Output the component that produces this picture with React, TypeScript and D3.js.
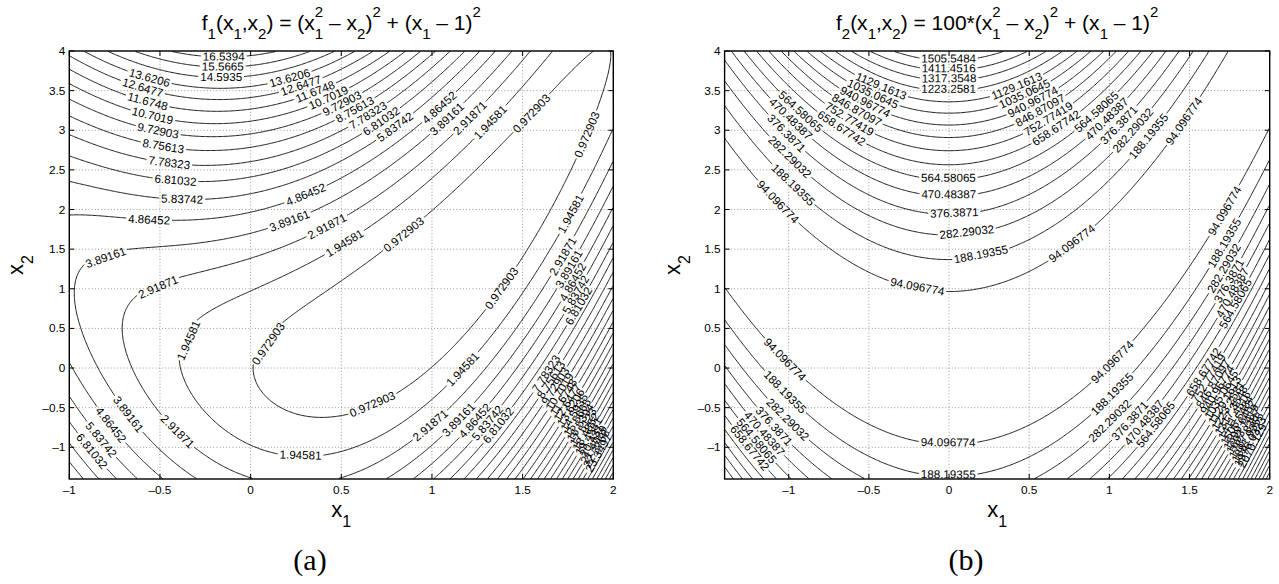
import React, { useMemo } from 'react';
import * as d3 from 'd3';

// ---------- data ----------
const x1TicksA = [-1, -0.5, 0, 0.5, 1, 1.5, 2];
const x1TicksB = [-1, -0.5, 0, 0.5, 1, 1.5, 2];
const x2Ticks = [-1, -0.5, 0, 0.5, 1, 1.5, 2, 2.5, 3, 3.5, 4];
const x1DomainA = [-1, 2];
const x1DomainB = [-1.4, 2];
const x2Domain = [-1.4, 4];

const levelsA = [
  0.972903, 1.94581, 2.91871, 3.89161, 4.86452, 5.83742, 6.81032, 7.78323, 8.75613, 9.72903,
  10.7019, 11.6748, 12.6477, 13.6206, 14.5935, 15.5665, 16.5394, 17.5123, 18.4852, 19.4581,
  20.431, 21.4039, 22.3768, 23.3497, 24.3226, 25.2955, 26.2684, 27.2413, 28.2142, 29.1871,
];
const levelsB = [
  94.096774, 188.19355, 282.29032, 376.3871, 470.48387, 564.58065, 658.67742, 752.77419,
  846.87097, 940.96774, 1035.0645, 1129.1613, 1223.2581, 1317.3548, 1411.4516, 1505.5484,
  1599.6452, 1693.7419, 1787.8387, 1881.9355, 1976.0323, 2070.129, 2164.2258, 2258.3226,
  2352.4194, 2446.5161, 2540.6129, 2634.7097, 2728.8065, 2822.9032,
];

// functions given in the panel titles
const f1 = (a: number, b: number) => (a * a - b) ** 2 + (a - 1) ** 2;
const f2 = (a: number, b: number) => 100 * (a * a - b) ** 2 + (a - 1) ** 2;

// ---------- layout ----------
const W = 1279;
const H = 584;
const FONT = 'Liberation Sans, Arial, Helvetica, sans-serif';
const boxA = { left: 69.3, right: 613.3, top: 51, bottom: 479 };
const boxB = { left: 724.6, right: 1269.7, top: 51, bottom: 479 };
const LABEL_SIZE = 11.6;
const TICK_SIZE = 11.8;
const SPACING = 185;

let ctx: CanvasRenderingContext2D | null = null;
function textWidth(s: string, font: string) {
  if (!ctx) ctx = document.createElement('canvas').getContext('2d');
  if (!ctx) return s.length * 6;
  ctx.font = font;
  return ctx.measureText(s).width;
}

type Pt = [number, number];

function splitRing(ring: number[][], nx: number, ny: number): number[][][] {
  const pts = ring.slice(0, ring.length - 1);
  const n = pts.length;
  const onB = (p: number[]) => p[0] <= 0 || p[0] >= nx || p[1] <= 0 || p[1] >= ny;
  const isBEdge = (i: number) => onB(pts[i]) && onB(pts[(i + 1) % n]);
  let start = -1;
  for (let i = 0; i < n; i++) if (isBEdge(i)) { start = i; break; }
  if (start < 0) return [ring.slice()];
  const lines: number[][][] = [];
  let cur: number[][] = [];
  for (let k = 1; k <= n; k++) {
    const i = (start + k) % n;
    if (isBEdge(i)) {
      if (cur.length >= 2) lines.push(cur);
      cur = [];
    } else {
      if (!cur.length) cur.push(pts[i]);
      cur.push(pts[(i + 1) % n]);
    }
  }
  if (cur.length >= 2) lines.push(cur);
  return lines;
}

function layoutLine(pts: Pt[], label: string) {
  const cum = [0];
  for (let i = 1; i < pts.length; i++) {
    cum.push(cum[i - 1] + Math.hypot(pts[i][0] - pts[i - 1][0], pts[i][1] - pts[i - 1][1]));
  }
  const L = cum[cum.length - 1];
  const pointAt = (s: number): Pt => {
    if (s <= 0) return pts[0];
    if (s >= L) return pts[pts.length - 1];
    let lo = 0, hi = cum.length - 1;
    while (hi - lo > 1) {
      const m = (lo + hi) >> 1;
      if (cum[m] <= s) lo = m; else hi = m;
    }
    const t = (s - cum[lo]) / (cum[hi] - cum[lo] || 1);
    return [pts[lo][0] + t * (pts[hi][0] - pts[lo][0]), pts[lo][1] + t * (pts[hi][1] - pts[lo][1])];
  };
  const sub = (s0: number, s1: number): Pt[] => {
    const out: Pt[] = [pointAt(s0)];
    for (let i = 0; i < pts.length; i++) if (cum[i] > s0 && cum[i] < s1) out.push(pts[i]);
    out.push(pointAt(s1));
    return out;
  };
  const w = textWidth(label, `${LABEL_SIZE}px ${FONT}`) + 4;
  const labels: { x: number; y: number; a: number; t: string }[] = [];
  const pieces: Pt[][] = [];
  if (L > w * 1.25) {
    const n = Math.max(1, Math.round(L / SPACING));
    let prev = 0;
    for (let k = 0; k < n; k++) {
      const s = (L * (k + 0.5)) / n;
      const a0 = s - w / 2, a1 = s + w / 2;
      const p0 = pointAt(a0), p1 = pointAt(a1);
      let ang = (Math.atan2(p1[1] - p0[1], p1[0] - p0[0]) * 180) / Math.PI;
      if (ang > 90) ang -= 180;
      if (ang < -90) ang += 180;
      labels.push({ x: (p0[0] + p1[0]) / 2, y: (p0[1] + p1[1]) / 2, a: ang, t: label });
      if (a0 > prev) pieces.push(sub(prev, a0));
      prev = a1;
    }
    if (prev < L) pieces.push(sub(prev, L));
  } else {
    pieces.push(pts);
  }
  return { pieces, labels };
}

function computePanel(
  f: (a: number, b: number) => number,
  xd: number[],
  levels: number[],
  xs: d3.ScaleLinear<number, number>,
  ys: d3.ScaleLinear<number, number>,
) {
  const nx = Math.round((xs.range()[1] - xs.range()[0]) / 1.2);
  const ny = Math.round((ys.range()[0] - ys.range()[1]) / 1.2);
  const hx = (xd[1] - xd[0]) / nx;
  const hy = (x2Domain[1] - x2Domain[0]) / ny;
  const vals = new Array(nx * ny);
  for (let j = 0; j < ny; j++) {
    const y = x2Domain[0] + (j + 0.5) * hy;
    for (let i = 0; i < nx; i++) vals[j * nx + i] = f(xd[0] + (i + 0.5) * hx, y);
  }
  const geoms = d3.contours().size([nx, ny]).thresholds(levels)(vals);
  const toScreen = (p: number[]): Pt => [xs(xd[0] + p[0] * hx), ys(x2Domain[0] + p[1] * hy)];
  const line = d3.line();
  const paths: string[] = [];
  const labels: { x: number; y: number; a: number; t: string }[] = [];
  geoms.forEach((g, li) => {
    const lab = String(levels[li]);
    g.coordinates.forEach((poly) => {
      poly.forEach((ring) => {
        splitRing(ring as number[][], nx, ny).forEach((ln) => {
          const pts = ln.map(toScreen);
          const r = layoutLine(pts, lab);
          r.pieces.forEach((pc) => {
            if (pc.length >= 2) paths.push(line(pc) || '');
          });
          labels.push(...r.labels);
        });
      });
    });
  });
  return { paths, labels };
}

type Seg = { t: string; k?: 'sub' | 'sup' | 'subsup'; s?: string };

function Rich({ x, y, segs, size, small, subDy, supDy, transform }: {
  x: number; y: number; segs: Seg[]; size: number; small: number; subDy: number; supDy: number; transform?: string;
}) {
  let cur = 0;
  const out: React.ReactNode[] = [];
  segs.forEach((sg, i) => {
    if (!sg.k) {
      out.push(<tspan key={i} dy={-cur} fontSize={size}>{sg.t}</tspan>);
      cur = 0;
    } else if (sg.k === 'sub') {
      out.push(<tspan key={i} dy={subDy - cur} fontSize={small}>{sg.t}</tspan>);
      cur = subDy;
    } else if (sg.k === 'sup') {
      out.push(<tspan key={i} dy={supDy - cur} fontSize={small}>{sg.t}</tspan>);
      cur = supDy;
    } else {
      const w = textWidth(sg.t, `${small}px ${FONT}`);
      out.push(<tspan key={i + 'a'} dy={subDy - cur} fontSize={small}>{sg.t}</tspan>);
      out.push(<tspan key={i + 'b'} dx={-w} dy={supDy - subDy} fontSize={small}>{sg.s}</tspan>);
      cur = supDy;
    }
  });
  return (
    <text x={x} y={y} textAnchor="middle" fontFamily={FONT} fill="#000" transform={transform}>
      {out}
    </text>
  );
}

const titleA: Seg[] = [
  { t: 'f' }, { t: '1', k: 'sub' }, { t: '(x' }, { t: '1', k: 'sub' }, { t: ',x' }, { t: '2', k: 'sub' },
  { t: ') = (x' }, { t: '1', k: 'subsup', s: '2' }, { t: ' \u2013 x' }, { t: '2', k: 'sub' }, { t: ')' },
  { t: '2', k: 'sup' }, { t: ' + (x' }, { t: '1', k: 'sub' }, { t: ' \u2013 1)' }, { t: '2', k: 'sup' },
];
const titleB: Seg[] = [
  { t: 'f' }, { t: '2', k: 'sub' }, { t: '(x' }, { t: '1', k: 'sub' }, { t: ',x' }, { t: '2', k: 'sub' },
  { t: ') = 100*(x' }, { t: '1', k: 'subsup', s: '2' }, { t: ' \u2013 x' }, { t: '2', k: 'sub' }, { t: ')' },
  { t: '2', k: 'sup' }, { t: ' + (x' }, { t: '1', k: 'sub' }, { t: ' \u2013 1)' }, { t: '2', k: 'sup' },
];

const fmtTick = (v: number) => String(v).replace('-', '\u2013');

function Panel({ f, xd, xticks, levels, box, title, letter, letterX, yLabelX, id }: {
  f: (a: number, b: number) => number; xd: number[]; xticks: number[]; levels: number[];
  box: typeof boxA; title: Seg[]; letter: string; letterX: number; yLabelX: number; id: string;
}) {
  const xs = d3.scaleLinear().domain(xd).range([box.left, box.right]);
  const ys = d3.scaleLinear().domain(x2Domain).range([box.bottom, box.top]);
  const { paths, labels } = useMemo(() => computePanel(f, xd, levels, xs, ys), []);
  const cx = (box.left + box.right) / 2;
  const cy = (box.top + box.bottom) / 2;
  const tl = 5;
  return (
    <g>
      <defs>
        <clipPath id={id}>
          <rect x={box.left} y={box.top} width={box.right - box.left} height={box.bottom - box.top} />
        </clipPath>
      </defs>
      <rect x={box.left} y={box.top} width={box.right - box.left} height={box.bottom - box.top} fill="#fff" />
      {/* grid */}
      <g stroke="#808080" strokeWidth={0.8} strokeDasharray="1,2.2">
        {xticks.map((t) => (
          <line key={'gx' + t} x1={xs(t)} x2={xs(t)} y1={box.top} y2={box.bottom} />
        ))}
        {x2Ticks.map((t) => (
          <line key={'gy' + t} x1={box.left} x2={box.right} y1={ys(t)} y2={ys(t)} />
        ))}
      </g>
      {/* contours */}
      <g clipPath={`url(#${id})`} fill="none" stroke="#000" strokeWidth={0.9}>
        {paths.map((d, i) => (
          <path key={i} d={d} />
        ))}
      </g>
      <g fontFamily={FONT} fontSize={LABEL_SIZE} fill="#000">
        {labels.map((l, i) => (
          <text key={i} transform={`translate(${l.x},${l.y}) rotate(${l.a})`} textAnchor="middle" dominantBaseline="central">
            {l.t}
          </text>
        ))}
      </g>
      {/* frame & ticks */}
      <rect x={box.left} y={box.top} width={box.right - box.left} height={box.bottom - box.top} fill="none" stroke="#000" strokeWidth={1.4} />
      <g stroke="#000" strokeWidth={1}>
        {xticks.map((t) => (
          <g key={'tx' + t}>
            <line x1={xs(t)} x2={xs(t)} y1={box.bottom} y2={box.bottom - tl} />
            <line x1={xs(t)} x2={xs(t)} y1={box.top} y2={box.top + tl} />
          </g>
        ))}
        {x2Ticks.map((t) => (
          <g key={'ty' + t}>
            <line x1={box.left} x2={box.left + tl} y1={ys(t)} y2={ys(t)} />
            <line x1={box.right} x2={box.right - tl} y1={ys(t)} y2={ys(t)} />
          </g>
        ))}
      </g>
      <g fontFamily={FONT} fontSize={TICK_SIZE} fill="#000">
        {xticks.map((t) => (
          <text key={'lx' + t} x={xs(t)} y={box.bottom + 15} textAnchor="middle">{fmtTick(t)}</text>
        ))}
        {x2Ticks.map((t) => (
          <text key={'ly' + t} x={box.left - 4} y={ys(t)} textAnchor="end" dominantBaseline="central">{fmtTick(t)}</text>
        ))}
      </g>
      <Rich x={cx} y={30} segs={title} size={21} small={15} subDy={9} supDy={-13} />
      <Rich x={cx} y={517} segs={[{ t: 'x' }, { t: '1', k: 'sub' }]} size={22} small={16} subDy={10} supDy={-10} />
      <Rich x={0} y={0} transform={`translate(${yLabelX},${cy}) rotate(-90)`} segs={[{ t: 'x' }, { t: '2', k: 'sub' }]} size={22} small={16} subDy={10} supDy={-10} />
      <text x={letterX} y={570} textAnchor="middle" fontFamily="Liberation Serif, Times New Roman, serif" fontSize={30} fill="#000">{letter}</text>
    </g>
  );
}

export default function App() {
  return (
    <svg width={W} height={H} style={{ position: 'absolute', left: 0, top: 0, background: '#fff' }}>
      <rect x={0} y={0} width={W} height={H} fill="#fff" />
      <Panel f={f1} xd={x1DomainA} xticks={x1TicksA} levels={levelsA} box={boxA} title={titleA} letter="(a)" letterX={310} yLabelX={23} id="clipA" />
      <Panel f={f2} xd={x1DomainB} xticks={x1TicksB} levels={levelsB} box={boxB} title={titleB} letter="(b)" letterX={966} yLabelX={680} id="clipB" />
    </svg>
  );
}
